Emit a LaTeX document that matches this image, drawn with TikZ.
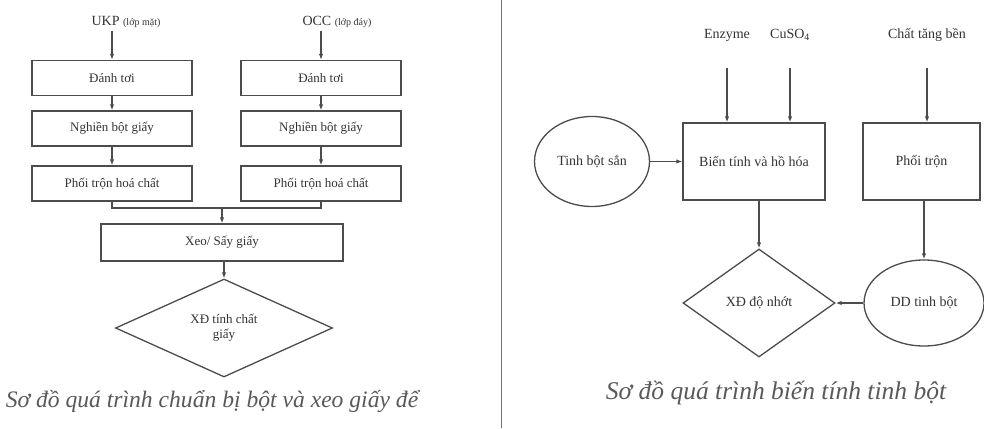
\documentclass[tikz,border=0pt]{standalone}
\usepackage{fontspec}
\setmainfont{Liberation Serif}
\usetikzlibrary{shapes.geometric,arrows.meta}

\begin{document}
\begin{tikzpicture}[x=1pt,y=-1pt,
    every node/.style={text=black!80},
    flow/.style={draw=black!70,line width=1.3pt,-{Latex[length=6pt,width=4.5pt]}},
    proc box/.style={rectangle,draw=black!70,line width=1.3pt,minimum width=160pt,minimum height=35pt,font=\fontsize{13}{15}\selectfont},
    test node/.style={diamond,draw=black!70,line width=1.3pt,inner sep=0pt,align=center,font=\fontsize{13}{15}\selectfont},
    input node/.style={ellipse,draw=black!70,line width=1.3pt,inner sep=0pt,font=\fontsize{14}{16}\selectfont},
    feed/.style={font=\fontsize{14}{16}\selectfont},
    caption/.style={font=\fontsize{23.6}{26}\selectfont\itshape,text=black!65}]
    \useasboundingbox (0,0) rectangle (984,428);

    % left: pulp preparation
    \node[feed] at (126, 22) (ukp) {UKP {\fontsize{10}{11}\selectfont (lớp mặt)}};
    \node[feed] at (337, 22) (occ) {OCC {\fontsize{10}{11}\selectfont (lớp đáy)}};
    \node[proc box] at (112, 78) (dt1) {Đánh tơi};
    \node[proc box] at (321, 78) (dt2) {Đánh tơi};
    \node[proc box] at (112, 128.5) (ng1) {Nghiền bột giấy};
    \node[proc box] at (321, 128.5) (ng2) {Nghiền bột giấy};
    \node[proc box] at (112, 183.5) (pt1) {Phối trộn hoá chất};
    \node[proc box] at (321, 183.5) (pt2) {Phối trộn hoá chất};
    \coordinate (join) at (222, 208);
    \node[proc box, minimum width=242pt, minimum height=37pt] at (222, 242.5) (xeo) {Xeo/ Sấy giấy};
    \node[test node, minimum width=217pt, minimum height=98pt] at (224, 328) (xdgiay) {XĐ tính chất\\giấy};

    \path[every edge/.style={flow}]
        (ukp.south -| dt1.north) edge (dt1)
        (occ.south -| dt2.north) edge (dt2)
        (dt1) edge (ng1)
        (dt2) edge (ng2)
        (ng1) edge (pt1)
        (ng2) edge (pt2)
        (join) edge (xeo)
        (xeo.south -| xdgiay.north) edge (xdgiay)
        ;
    \draw[draw=black!70,line width=1.3pt] (pt1.south) |- (join) -| (pt2.south);

    \node[caption] at (212, 401) (cap1) {Sơ đồ quá trình chuẩn bị bột và xeo giấy để};

    % divider
    \draw[black!55,line width=1pt] (501,0) -- (501,428);

    % right: starch modification
    \node[feed] at (727, 35) (enz) {Enzyme};
    \node[feed] at (790, 35) (cuso) {CuSO\textsubscript{4}};
    \node[feed] at (927, 35) (ctb) {Chất tăng bền};
    \coordinate (enzin) at (727, 68);
    \coordinate (cusoin) at (790, 68);
    \coordinate (ctbin) at (927, 68);
    \node[input node, minimum width=115pt, minimum height=90pt] at (592, 161.5) (tinh) {Tinh bột sắn};
    \node[proc box, minimum width=142pt, minimum height=77pt, font=\fontsize{14}{16}\selectfont] at (754, 161.5) (bien) {Biến tính và hồ hóa};
    \node[proc box, minimum width=117pt, minimum height=77pt, font=\fontsize{14}{16}\selectfont] at (921.5, 161.5) (phoi) {Phối trộn};
    \node[test node, minimum width=152pt, minimum height=108pt, font=\fontsize{14}{16}\selectfont] at (759, 303) (xddn) {XĐ độ nhớt};
    \node[input node, minimum width=120pt, minimum height=86pt] at (924, 303) (ddtb) {DD tinh bột};

    \path[every edge/.style={flow}]
        (enzin) edge (enzin |- bien.north)
        (cusoin) edge (cusoin |- bien.north)
        (ctbin) edge (ctbin |- phoi.north)
        (tinh) edge (bien)
        (bien.south -| xddn.north) edge (xddn)
        (phoi.south -| ddtb.north) edge (ddtb)
        (ddtb) edge (xddn)
        ;

    \node[caption, font=\fontsize{25.5}{28}\selectfont\itshape] at (776, 393) (cap2) {Sơ đồ quá trình biến tính tinh bột};
\end{tikzpicture}
\end{document}
